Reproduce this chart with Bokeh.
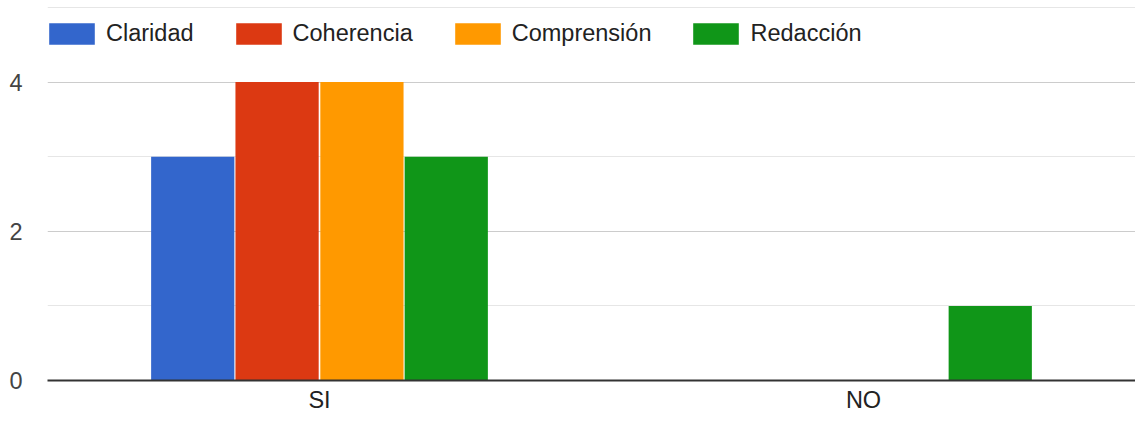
from bokeh.plotting import figure
from bokeh.models import ColumnDataSource, FactorRange, FixedTicker, Legend, LegendItem, Range1d
from bokeh.transform import dodge
from bokeh.embed import file_html
from bokeh.resources import INLINE

categories = ["SI", "NO"]
claridad = [3, 0]
coherencia = [4, 0]
comprension = [4, 0]
redaccion = [3, 1]
series_names = ["Claridad", "Coherencia", "Comprensión", "Redacción"]
colors = ["#3366cc", "#dc3912", "#ff9900", "#109618"]
y_major = [0, 2, 4]
y_minor = [1, 3, 5]

source = ColumnDataSource(dict(cat=categories, claridad=claridad, coherencia=coherencia,
                               comprension=comprension, redaccion=redaccion))

FONT = "Liberation Sans"
FS = "23.5px"

p = figure(x_range=FactorRange(*categories, range_padding=0), y_range=Range1d(0, 5.013),
           width=1135, height=415, output_backend="svg", toolbar_location=None,
           min_border_left=47, min_border_right=0, min_border_top=6, min_border_bottom=35)
p.outline_line_color = None
p.background_fill_color = "white"

cols = ["claridad", "coherencia", "comprension", "redaccion"]
offsets = [-0.233, -0.078, 0.078, 0.233]
renderers = []
for col, off, c in zip(cols, offsets, colors):
    r = p.vbar(x=dodge("cat", off, range=p.x_range), top=col, width=0.153, bottom=0,
               source=source, fill_color=c, line_color=None)
    renderers.append(r)

legend = Legend(items=[LegendItem(label=n, renderers=[r]) for n, r in zip(series_names, renderers)],
                orientation="horizontal", location=(-4, 333), padding=0, margin=0,
                spacing=36, glyph_width=57, glyph_height=27, label_standoff=6,
                label_text_font=FONT, label_text_font_size=FS, label_text_color="#222222",
                border_line_color=None, background_fill_alpha=0)
p.add_layout(legend, "center")

p.xgrid.grid_line_color = None
p.ygrid.grid_line_color = "#cccccc"
p.ygrid.grid_line_width = 1
p.ygrid.minor_grid_line_color = "#e6e6e6"
p.ygrid.minor_grid_line_width = 1

p.yaxis.ticker = FixedTicker(ticks=y_major, minor_ticks=y_minor)
p.yaxis.axis_line_color = None
p.yaxis.major_tick_line_color = None
p.yaxis.minor_tick_line_color = None
p.yaxis.major_tick_out = 0
p.yaxis.major_tick_in = 0
p.yaxis.major_label_standoff = 21
p.yaxis.major_label_text_font = FONT
p.yaxis.major_label_text_font_size = FS
p.yaxis.major_label_text_color = "#444444"

p.xaxis.axis_line_color = "#333333"
p.xaxis.axis_line_width = 2
p.xaxis.major_tick_line_color = None
p.xaxis.major_tick_out = 0
p.xaxis.major_tick_in = 0
p.xaxis.major_label_standoff = 6
p.xaxis.major_label_text_font = FONT
p.xaxis.major_label_text_font_size = FS
p.xaxis.major_label_text_color = "#222222"

open("out.html", "w").write(file_html(p, INLINE))
